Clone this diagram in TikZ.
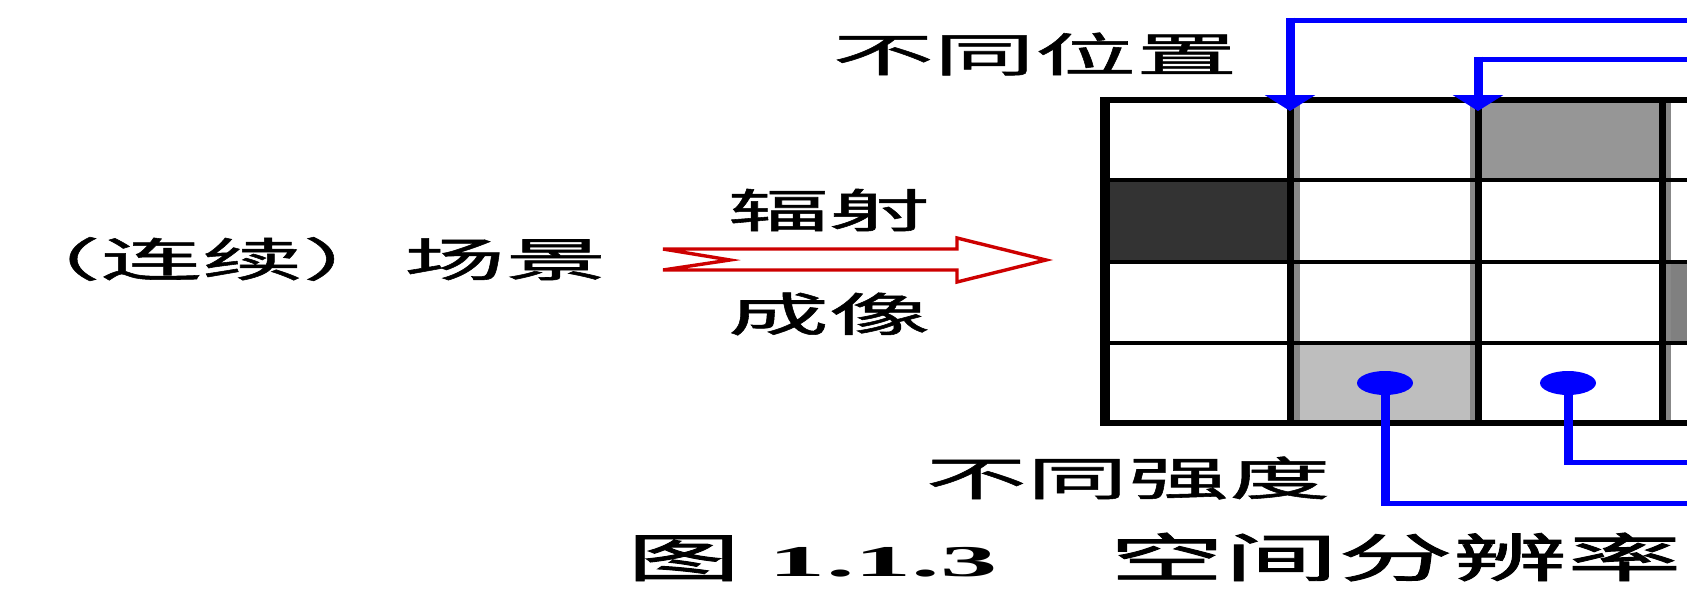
\documentclass[tikz,border=0pt]{standalone}
\usepackage{fontspec}
\usetikzlibrary{arrows.meta,shapes.geometric}
\newfontfamily\cjk[FakeStretch=2.2,FakeBold=1.2]{Noto Sans CJK SC}
\newfontfamily\capcjk[FakeStretch=2.2,FakeBold=1.8]{Noto Sans CJK SC}
\newfontfamily\numfont[FakeStretch=2.6]{Liberation Serif}
\definecolor{arrowred}{RGB}{205,0,0}
\definecolor{darkcell}{RGB}{51,51,51}
\definecolor{midcell}{RGB}{150,150,150}
\definecolor{graycell}{RGB}{128,128,128}
\definecolor{lightcell}{RGB}{190,190,190}
\definecolor{shadow}{RGB}{136,136,136}
\definecolor{pureblue}{RGB}{0,0,255}
\tikzset{
  lbl/.style={inner sep=0pt, font=\cjk\fontsize{23}{23}\selectfont, text=black},
  caplbl/.style={inner sep=0pt, text=black},
  hline/.style={line width=2pt, black},
  vline/.style={line width=3.5pt, black},
  bluev/.style={line width=4.5pt, pureblue},
  blueh/.style={line width=2.5pt, pureblue},
  blob/.style={ellipse, fill=pureblue, draw=none, minimum width=28pt, minimum height=12pt, inner sep=0pt},
  downtip/.style={-{Triangle[width=25pt,length=8pt]}},
  notched/.style={draw=arrowred, line width=1.7pt, fill=white, line join=miter}
}
\begin{document}
\begin{tikzpicture}[x=0.5pt,y=-0.5pt]
\useasboundingbox (0,0) rectangle (1687,594);
\clip (0,0) rectangle (1687,594);
\fill[white] (0,0) rectangle (1687,594);

% labels
\node[lbl] (scene) at (303,259) {（连续）场景};
\node[lbl] (radiate) at (829,210) {辐射};
\node[lbl] (imaging) at (829,314) {成像};
\node[lbl] (poslbl) at (1035,54) {不同位置};
\node[lbl] (intlbl) at (1128,478) {不同强度};
\node[caplbl, anchor=west] (caption) at (626,557)
  {{\capcjk\fontsize{26}{26}\selectfont 图}\hspace{14pt}{\numfont\bfseries\fontsize{22}{22}\selectfont 1.1.3}\hspace{56pt}{\capcjk\fontsize{26}{26}\selectfont 空间分辨率}};

% notched arrow
\draw[notched] (663,249) -- (957,249) -- (957,238) -- (1046,260) -- (957,282) -- (957,270) -- (663,270) -- (730,260) -- cycle;

% grid cells
\fill[darkcell] (1106,180) rectangle (1290,262);
\fill[midcell] (1478,100) rectangle (1662,180);
\fill[graycell] (1662,262) rectangle (1800,343);
\fill[lightcell] (1290,343) rectangle (1478,423);
% shadows along vertical lines
\fill[shadow] (1293,100) rectangle (1300,423);
\fill[shadow] (1470,100) rectangle (1476,423);
\fill[shadow] (1664,100) rectangle (1671,423);
% inner lines
\draw[hline] (1106,180) -- (1800,180);
\draw[hline] (1106,262) -- (1800,262);
\draw[hline] (1106,343) -- (1800,343);
\draw[vline] (1290,100) -- (1290,423);
\draw[vline] (1478,100) -- (1478,423);
\draw[vline] (1662,100) -- (1662,423);
% outer border
\draw[line width=3pt] (1100,100) -- (1800,100);
\draw[line width=3pt] (1100,423) -- (1800,423);
\draw[line width=5pt] (1105,97) -- (1105,426);

% top connectors
\coordinate (srcA) at (1720,20);
\coordinate (bendA) at (1290,20);
\coordinate (startA) at (1290,17.5);
\coordinate (tipA) at (1290,111);
\coordinate (srcB) at (1720,59);
\coordinate (bendB) at (1478,59);
\coordinate (startB) at (1478,56.5);
\coordinate (tipB) at (1478,111);
\draw[blueh] (srcA) -- (bendA);
\draw[bluev, downtip] (startA) -- (tipA);
\draw[blueh] (srcB) -- (bendB);
\draw[bluev, downtip] (startB) -- (tipB);

% bottom connectors
\node[blob] (pinA) at (1385,383) {};
\node[blob] (pinB) at (1568,383) {};
\coordinate (kneeA) at (1385,505.5);
\coordinate (turnA) at (1385,503);
\coordinate (endA) at (1720,503);
\coordinate (kneeB) at (1568,464.5);
\coordinate (turnB) at (1568,462);
\coordinate (endB) at (1720,462);
\draw[bluev] (pinA.center) -- (kneeA);
\draw[blueh] (turnA) -- (endA);
\draw[bluev] (pinB.center) -- (kneeB);
\draw[blueh] (turnB) -- (endB);
\end{tikzpicture}
\end{document}
